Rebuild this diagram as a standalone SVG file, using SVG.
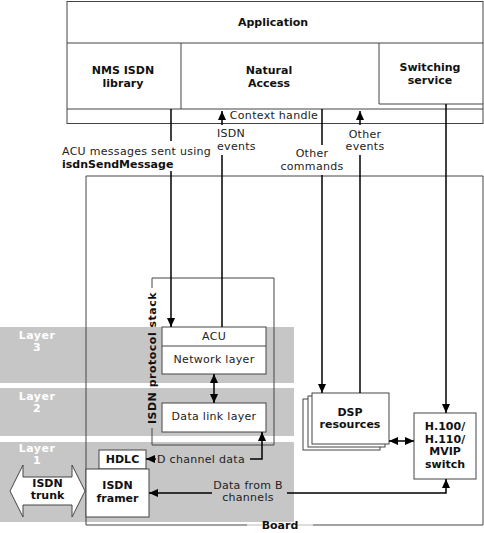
<svg xmlns="http://www.w3.org/2000/svg" width="484" height="533" viewBox="0 0 484 533">
<defs>
<style>
.t{font-family:"DejaVu Sans","Liberation Sans",sans-serif;font-size:11px;fill:#222;letter-spacing:0.3px;text-anchor:middle}
.b{font-family:"DejaVu Sans","Liberation Sans",sans-serif;font-size:11px;font-weight:bold;fill:#111;text-anchor:middle}
.w{font-family:"DejaVu Sans","Liberation Sans",sans-serif;font-size:11px;font-weight:bold;fill:#fff;text-anchor:middle;letter-spacing:0.5px}
.box{fill:#fff;stroke:#444;stroke-width:1}
.ln{fill:none;stroke:#444;stroke-width:1}
.band{fill:#c6c6c6}
.c{fill:none;stroke:#000;stroke-width:1.5}
</style>
<marker id="ah" viewBox="0 0 9 8" refX="9" refY="4" markerWidth="9" markerHeight="8" markerUnits="userSpaceOnUse" orient="auto-start-reverse">
<path d="M0,0 L9,4 L0,8 z" fill="#000"/>
</marker>
</defs>

<g id="layers">
<rect class="band" x="0" y="327" width="294" height="56"/>
<rect class="band" x="0" y="388" width="294" height="48"/>
<rect class="band" x="0" y="442" width="294" height="80"/>
<text class="w" x="37" y="339">Layer</text><text class="w" x="37" y="351">3</text>
<text class="w" x="37" y="400">Layer</text><text class="w" x="37" y="412">2</text>
<text class="w" x="37" y="452">Layer</text><text class="w" x="37" y="464">1</text>
</g>

<g id="application">
<rect class="box" x="67" y="1.5" width="416" height="122"/>
<line class="ln" x1="67" y1="43" x2="483" y2="43"/>
<line class="ln" x1="181" y1="43" x2="181" y2="109"/>
<line class="ln" x1="379" y1="43" x2="379" y2="104"/>
<line class="ln" x1="379" y1="104" x2="483" y2="104"/>
<line class="ln" x1="67" y1="109" x2="483" y2="109"/>
<text class="b" x="273" y="26">Application</text>
<text class="t" x="274" y="119">Context handle</text>
</g>
<g id="nms-isdn-library">
<text class="b" x="123" y="74">NMS ISDN</text>
<text class="b" x="123" y="87">library</text>
</g>
<g id="natural-access">
<text class="b" x="269" y="74">Natural</text>
<text class="b" x="269" y="87">Access</text>
</g>
<g id="switching-service">
<text class="b" x="430" y="71">Switching</text>
<text class="b" x="430" y="84">service</text>
</g>

<g id="board">
<path class="ln" d="M247,525 L86,525 L86,176 L483,176 L483,525 L313,525"/>
<line x1="247" y1="525" x2="262" y2="525" stroke="#bbb" stroke-width="1"/>
<line x1="298" y1="525" x2="313" y2="525" stroke="#bbb" stroke-width="1"/>
<text class="b" x="280" y="529">Board</text>
</g>

<g id="isdn-protocol-stack">
<path class="ln" d="M152,288 L152,278 L274,278 L274,445 L152,445 L152,428"/>
<text class="b" transform="translate(156,358) rotate(-90)" style="letter-spacing:0.5px">ISDN protocol stack</text>
</g>

<g id="acu">
<rect class="box" x="162" y="327" width="104" height="47"/>
<line class="ln" x1="162" y1="346" x2="266" y2="346"/>
<text class="t" x="214" y="340">ACU</text>
<text class="t" x="214" y="363">Network layer</text>
</g>

<g id="data-link-layer">
<rect class="box" x="162" y="403" width="104" height="29"/>
<text class="t" x="214" y="420">Data link layer</text>
</g>

<g id="hdlc">
<rect class="box" x="99" y="450" width="47" height="19"/>
<text class="b" x="122.5" y="463">HDLC</text>
</g>

<g id="isdn-framer">
<rect class="box" x="86" y="469" width="63" height="48"/>
<text class="b" x="117.5" y="489">ISDN</text>
<text class="b" x="117.5" y="502">framer</text>
</g>

<g id="isdn-trunk">
<polygon class="box" points="10,491 23,465 23,477 72,477 72,465 85,491 72,517 72,505 23,505 23,517"/>
<text class="b" x="47.5" y="487">ISDN</text>
<text class="b" x="47.5" y="499">trunk</text>
</g>

<g id="dsp-resources">
<rect class="box" x="303" y="399" width="77" height="51"/>
<rect class="box" x="308" y="396" width="77" height="51"/>
<rect class="box" x="312" y="393" width="77" height="51"/>
<text class="b" x="350" y="416">DSP</text>
<text class="b" x="350" y="428">resources</text>
</g>

<g id="switch">
<rect class="box" x="414" y="413" width="62" height="66"/>
<text class="b" x="445" y="430">H.100/</text>
<text class="b" x="445" y="443">H.110/</text>
<text class="b" x="445" y="455">MVIP</text>
<text class="b" x="445" y="468">switch</text>
</g>

<g id="connectors">
<line class="c" x1="171" y1="109" x2="171" y2="141"/>
<line class="c" x1="171" y1="171" x2="171" y2="327" marker-end="url(#ah)"/>
<text class="t" x="62" y="155" style="text-anchor:start">ACU messages sent using</text>
<text class="b" x="62" y="168" style="text-anchor:start">isdnSendMessage</text>

<line class="c" x1="222" y1="125" x2="222" y2="111" marker-end="url(#ah)"/>
<line class="c" x1="222" y1="155" x2="222" y2="327"/>
<text class="t" x="217" y="137" style="text-anchor:start">ISDN</text>
<text class="t" x="217" y="150" style="text-anchor:start">events</text>

<line class="c" x1="322" y1="109" x2="322" y2="145"/>
<line class="c" x1="322" y1="175" x2="322" y2="393" marker-end="url(#ah)"/>
<text class="t" x="312" y="157">Other</text>
<text class="t" x="312" y="170">commands</text>

<line class="c" x1="360" y1="125" x2="360" y2="111" marker-end="url(#ah)"/>
<line class="c" x1="360" y1="155" x2="360" y2="393"/>
<text class="t" x="365" y="138">Other</text>
<text class="t" x="365" y="150">events</text>

<line class="c" x1="446" y1="104" x2="446" y2="413" marker-end="url(#ah)"/>

<line class="c" x1="214" y1="374" x2="214" y2="403" marker-start="url(#ah)" marker-end="url(#ah)"/>

<line class="c" x1="389" y1="441" x2="414" y2="441" marker-start="url(#ah)" marker-end="url(#ah)"/>

<polyline class="c" points="250,459 262,459 262,432" marker-end="url(#ah)"/>
<line class="c" x1="156" y1="459" x2="146" y2="459" marker-end="url(#ah)"/>
<text class="t" x="201" y="463">D channel data</text>

<polyline class="c" points="287,493 446,493 446,479" marker-end="url(#ah)"/>
<line class="c" x1="212" y1="493" x2="149" y2="493" marker-end="url(#ah)"/>
<text class="t" x="248" y="489">Data from B</text>
<text class="t" x="248" y="501">channels</text>
</g>
</svg>
